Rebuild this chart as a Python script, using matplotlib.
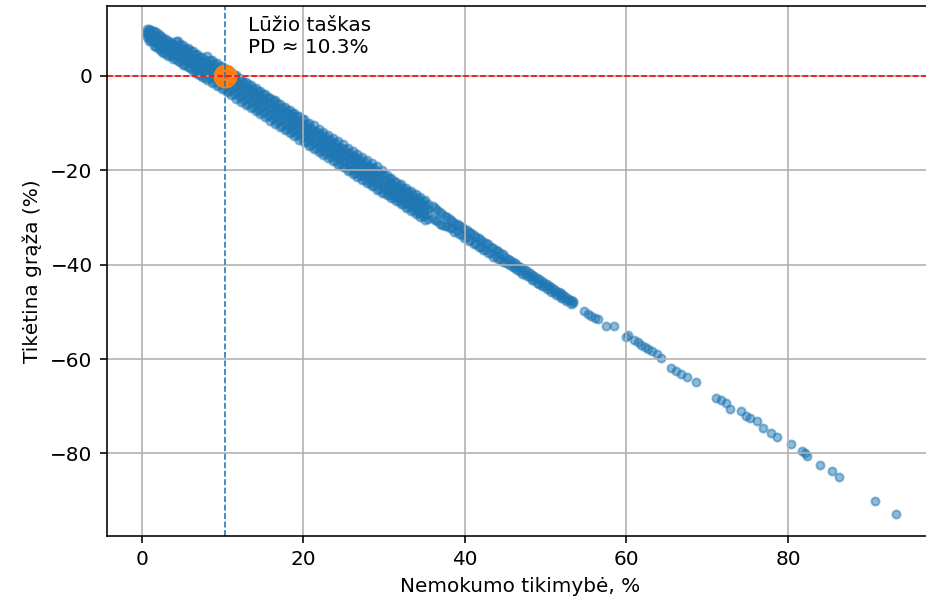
import numpy as np
import matplotlib
matplotlib.use("Agg")
import matplotlib.pyplot as plt

# Break-even default probability, %
breakeven_pd = 10.3

# Dense part of the cloud: PD values and 4 expected-return readings at each
band_pd = [0.6, 1.2, 1.8, 2.4, 3.0, 3.6, 4.2, 4.8, 5.4, 6.0,
           6.6, 7.2, 7.8, 8.4, 9.0, 9.6, 10.2, 10.8, 11.4, 12.0,
           12.6, 13.2, 13.8, 14.4, 15.0, 15.6, 16.2, 16.8, 17.4, 18.0,
           18.6, 19.2, 19.8, 20.4, 21.0, 21.6, 22.2, 22.8, 23.4, 24.0,
           24.6, 25.2, 25.8, 26.4, 27.0, 27.6, 28.2, 28.8, 29.4, 30.0,
           30.6, 31.2, 31.8, 32.4, 33.0, 33.6, 34.2, 34.8, 35.4]
band_ret = [
    (9.9, 9.3, 8.8, 8.3), (9.8, 9.0, 8.1, 7.3), (9.3, 8.0, 7.0, 6.1),
    (8.5, 7.5, 6.3, 5.3), (7.9, 6.7, 5.8, 4.6), (7.2, 6.2, 5.0, 4.1),
    (7.3, 6.0, 4.9, 3.6), (6.7, 5.4, 4.1, 3.0), (6.0, 4.8, 3.5, 2.2),
    (5.4, 4.0, 2.9, 1.6), (4.6, 3.4, 2.1, 1.0), (4.0, 2.7, 1.6, 0.2),
    (3.3, 2.1, 0.8, -0.4), (3.4, 2.2, 0.9, -0.5), (2.8, 1.5, 0.2, -1.2),
    (2.1, 0.9, -0.5, -1.9), (1.5, 0.2, -1.1, -2.5), (0.8, -0.5, -1.8, -3.2),
    (0.2, -1.1, -2.5, -3.8), (-0.5, -1.8, -3.1, -4.5), (-1.2, -2.4, -3.8, -5.1),
    (-1.8, -3.1, -4.4, -5.9), (-2.5, -3.8, -5.1, -6.5), (-3.2, -4.5, -5.8, -7.2),
    (-3.8, -5.1, -6.4, -7.9), (-4.5, -5.8, -7.1, -8.5), (-5.2, -6.5, -7.8, -9.2),
    (-5.8, -7.1, -8.5, -9.8), (-6.5, -7.8, -9.1, -10.6), (-7.2, -8.5, -9.8, -11.2),
    (-7.9, -9.1, -10.4, -11.9), (-8.5, -9.8, -11.1, -12.5), (-9.2, -10.5, -11.8, -13.2),
    (-10.3, -11.5, -12.8, -14.0), (-11.0, -12.2, -13.4, -14.6), (-11.6, -12.9, -14.1, -15.3),
    (-12.3, -13.5, -14.7, -16.0), (-13.0, -14.2, -15.4, -16.6), (-13.6, -14.9, -16.1, -17.3),
    (-14.3, -15.5, -16.8, -18.0), (-15.0, -16.2, -17.4, -18.6), (-15.6, -16.9, -18.1, -19.3),
    (-16.3, -17.5, -18.7, -20.0), (-17.0, -18.2, -19.4, -20.6), (-17.6, -18.9, -20.1, -21.3),
    (-18.3, -19.5, -20.7, -22.0), (-19.0, -20.2, -21.4, -22.6), (-19.6, -20.9, -22.1, -23.3),
    (-20.3, -21.5, -22.7, -23.9), (-21.0, -22.2, -23.4, -24.6), (-21.7, -22.9, -24.1, -25.3),
    (-22.3, -23.5, -24.7, -25.9), (-23.1, -24.2, -25.4, -26.5), (-23.7, -24.9, -26.0, -27.2),
    (-24.4, -25.5, -26.7, -27.8), (-25.1, -26.2, -27.3, -28.5), (-25.8, -26.9, -28.0, -29.1),
    (-26.5, -27.6, -28.6, -29.7), (-27.2, -28.2, -29.3, -30.3),
]

# Second pass through the dense part, between the columns above (5 readings each)
band2_pd = [0.9, 1.5, 2.1, 2.7, 3.3, 3.9, 4.5, 5.1, 5.7, 6.3,
            6.9, 7.5, 8.1, 8.7, 9.3, 9.9, 10.5, 11.1, 11.7, 12.3,
            12.9, 13.5, 14.1, 14.7, 15.3, 15.9, 16.5, 17.1, 17.7, 18.3,
            18.9, 19.5, 20.1, 20.7, 21.3, 21.9, 22.5, 23.1, 23.7, 24.3,
            24.9, 25.5, 26.1, 26.7, 27.3, 27.9, 28.5, 29.1, 29.7, 30.3,
            30.9, 31.5, 32.1, 32.7, 33.3, 33.9, 34.5, 35.1]
band2_ret = [
    (10.0, 9.4, 8.7, 8.0, 7.4), (9.5, 8.7, 7.9, 7.1, 6.3), (8.8, 8.1, 7.2, 6.4, 5.6),
    (8.1, 7.4, 6.6, 5.7, 4.9), (7.4, 6.7, 5.9, 5.0, 4.2), (6.8, 6.1, 5.3, 4.4, 3.6),
    (7.3, 6.4, 5.3, 4.2, 3.1), (6.6, 5.7, 4.6, 3.5, 2.4), (6.0, 5.1, 4.0, 2.9, 1.8),
    (5.3, 4.4, 3.3, 2.2, 1.1), (4.6, 3.7, 2.6, 1.5, 0.4), (4.0, 3.1, 2.0, 0.9, -0.2),
    (4.1, 3.0, 1.8, 0.5, -0.8), (3.4, 2.3, 1.1, -0.2, -1.5), (2.8, 1.7, 0.5, -0.8, -2.1),
    (2.1, 1.0, -0.2, -1.5, -2.8), (1.4, 0.3, -0.9, -2.2, -3.5), (0.8, -0.3, -1.5, -2.8, -4.1),
    (0.1, -1.0, -2.2, -3.5, -4.8), (-0.6, -1.7, -2.9, -4.2, -5.5), (-1.2, -2.3, -3.5, -4.8, -6.1),
    (-1.9, -3.0, -4.2, -5.5, -6.8), (-2.6, -3.7, -4.9, -6.2, -7.5), (-3.2, -4.3, -5.5, -6.8, -8.1),
    (-3.9, -5.0, -6.2, -7.5, -8.8), (-4.6, -5.7, -6.9, -8.2, -9.5), (-5.2, -6.3, -7.5, -8.8, -10.1),
    (-5.9, -7.0, -8.2, -9.5, -10.8), (-6.6, -7.7, -8.9, -10.2, -11.5), (-7.2, -8.3, -9.5, -10.8, -12.1),
    (-7.9, -9.0, -10.2, -11.5, -12.8), (-8.6, -9.7, -10.9, -12.2, -13.5), (-9.2, -10.3, -11.5, -12.8, -14.1),
    (-9.9, -11.0, -12.2, -13.5, -14.8), (-10.5, -11.6, -12.8, -14.1, -15.4), (-11.2, -12.3, -13.5, -14.8, -16.1),
    (-11.9, -13.0, -14.2, -15.5, -16.8), (-12.5, -13.6, -14.8, -16.1, -17.4), (-13.2, -14.3, -15.5, -16.8, -18.1),
    (-13.9, -15.0, -16.2, -17.5, -18.8), (-14.5, -15.6, -16.8, -18.1, -19.4), (-15.2, -16.3, -17.5, -18.8, -20.1),
    (-15.9, -17.0, -18.2, -19.5, -20.8), (-16.5, -17.6, -18.8, -20.1, -21.4), (-17.2, -18.3, -19.5, -20.8, -22.1),
    (-17.9, -19.0, -20.2, -21.5, -22.8), (-18.5, -19.6, -20.8, -22.1, -23.4), (-19.2, -20.3, -21.5, -22.8, -24.1),
    (-19.9, -21.0, -22.2, -23.5, -24.8), (-21.0, -22.0, -23.1, -24.2, -25.2), (-21.7, -22.7, -23.8, -24.9, -25.9),
    (-22.4, -23.4, -24.5, -25.6, -26.6), (-23.0, -24.0, -25.1, -26.2, -27.2), (-23.7, -24.7, -25.8, -26.9, -27.9),
    (-24.4, -25.4, -26.5, -27.6, -28.6), (-25.0, -26.0, -27.1, -28.2, -29.2), (-25.7, -26.7, -27.8, -28.9, -29.9),
    (-26.4, -27.4, -28.5, -29.6, -30.6),
]

# Thinner middle part: PD and 2 readings at each
mid_pd = [36.0, 36.6, 37.2, 37.8, 38.4, 39.0, 39.6, 40.2, 40.8, 41.4,
          42.0, 42.6, 43.2, 43.8, 44.4, 45.0, 45.6, 46.2, 46.8, 47.4,
          48.0, 48.6, 49.2, 49.8, 50.4, 51.0, 51.6, 52.2, 52.8, 53.4,
          36.3, 36.9, 37.5, 38.1, 38.7, 39.3, 39.9, 40.5, 41.1, 41.7,
          42.3, 42.9, 43.5, 44.1, 44.7, 45.3, 45.9, 46.5, 47.1, 47.7,
          48.3, 48.9, 49.5, 50.1, 50.7, 51.3, 51.9, 52.5, 53.1]
mid_ret = [
    (-27.6, -30.2), (-28.4, -30.8), (-29.2, -31.5), (-30.0, -31.9), (-30.7, -32.3),
    (-31.4, -32.9), (-32.0, -33.7), (-32.6, -34.2), (-33.4, -34.8), (-34.1, -35.6),
    (-34.8, -36.2), (-35.5, -36.9), (-36.2, -37.5), (-36.9, -38.2), (-37.6, -38.9),
    (-38.3, -39.5), (-39.0, -40.1), (-39.7, -40.8), (-40.4, -41.4), (-41.1, -42.0),
    (-41.8, -42.7), (-42.5, -43.3), (-43.1, -44.0), (-43.8, -44.6), (-44.5, -45.2),
    (-45.2, -45.9), (-45.9, -46.5), (-46.5, -47.1), (-47.2, -47.6), (-47.7, -48.1),
    (-28.0, -30.6), (-28.9, -31.3), (-29.6, -31.9), (-30.4, -32.3), (-31.1, -33.0),
    (-31.7, -33.6), (-32.4, -34.3), (-33.1, -35.0), (-33.7, -35.6), (-34.4, -36.3),
    (-35.1, -36.9), (-35.7, -37.6), (-36.4, -38.3), (-37.1, -38.9), (-37.8, -39.5),
    (-38.8, -39.9), (-39.4, -40.6), (-40.1, -41.2), (-40.8, -41.9), (-41.4, -42.5),
    (-42.1, -43.2), (-42.8, -43.9), (-43.4, -44.5), (-44.1, -45.2), (-44.8, -45.8),
    (-45.5, -46.5), (-46.1, -47.1), (-46.8, -47.7), (-47.5, -48.3),
]

# Sparse tail, single points
tail_pd = [54.7, 55.2, 55.6, 56.1, 56.5, 57.5, 58.4, 60.0, 60.2, 60.9,
           61.4, 61.8, 62.3, 62.7, 63.2, 63.8, 64.3, 65.5, 66.1, 66.7,
           67.5, 68.6, 71.1, 71.7, 72.3, 72.8, 74.2, 74.8, 75.3, 76.1,
           76.9, 77.9, 78.6, 80.3, 81.7, 82.1, 82.3, 83.9, 85.4, 86.3,
           90.7, 93.3]
tail_ret = [-49.9, -50.4, -50.9, -51.3, -51.6, -53.0, -53.0, -55.3, -54.9, -56.0,
            -56.5, -57.0, -57.4, -57.9, -58.3, -58.9, -59.8, -61.8, -62.6, -63.2,
            -63.9, -64.8, -68.2, -68.6, -69.3, -70.6, -71.0, -72.0, -72.4, -73.1,
            -74.6, -75.6, -76.5, -78.1, -79.5, -80.0, -80.6, -82.4, -83.8, -84.9,
            -90.1, -92.9]

pd_all = np.concatenate([np.repeat(band_pd, 4), np.repeat(band2_pd, 5),
                         np.repeat(mid_pd, 2), tail_pd])
ret_all = np.concatenate([np.ravel(band_ret), np.ravel(band2_ret),
                          np.ravel(mid_ret), tail_ret])

plt.rcParams['font.size'] = 10
fig = plt.figure(figsize=(926 / 144, 606 / 144), dpi=144)
ax = fig.add_axes([0.1152, 0.1163, 0.8934, 0.8738])

ax.scatter(pd_all, ret_all, s=16, alpha=0.5, color='C0')
ax.scatter([breakeven_pd], [0], s=120, color='C1')
ax.axhline(0, color='red', linestyle='--', linewidth=0.8)
ax.axvline(breakeven_pd, color='C0', linestyle='--', linewidth=0.8)
ax.text(breakeven_pd + 2.9, 4.8, f"Lūžio taškas\nPD ≈ {breakeven_pd:.1f}%")

ax.set_xlim(-4.33, 98.05)
ax.set_ylim(-97.4, 14.8)
ax.set_xlabel("Nemokumo tikimybė, %")
ax.set_ylabel("Tikėtina grąža (%)")
ax.grid(True)

fig.savefig("out.png", dpi=144)
